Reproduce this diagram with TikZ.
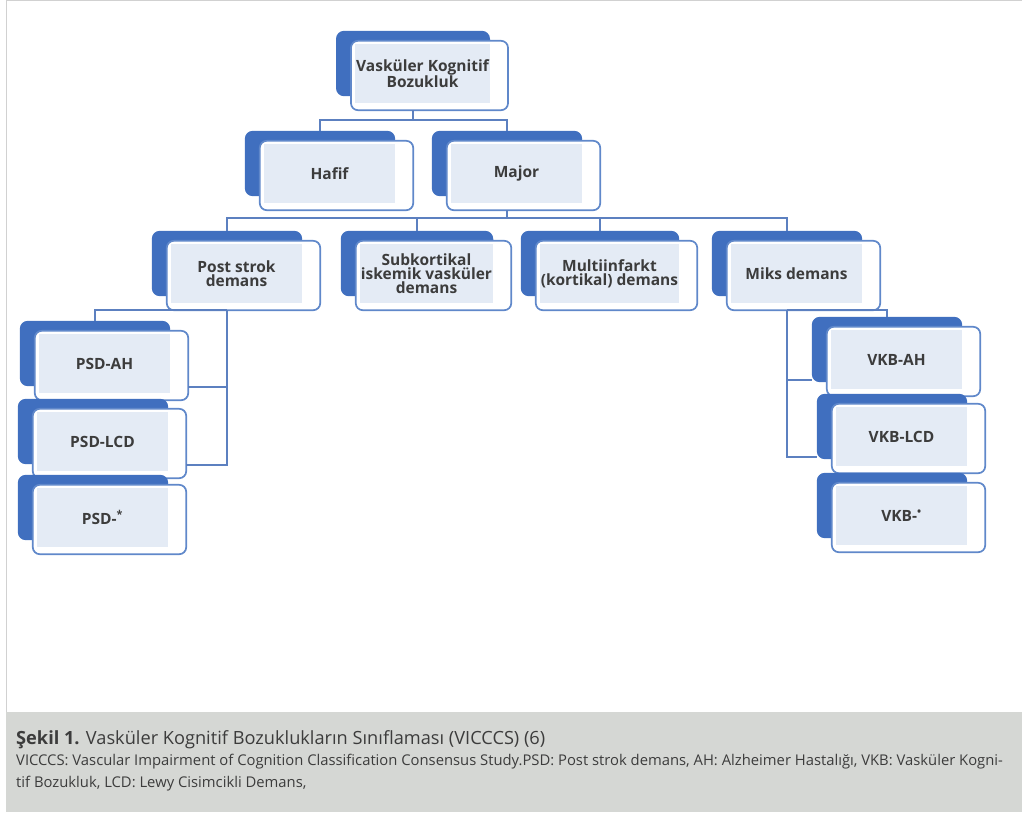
\documentclass[tikz,border=0pt]{standalone}
\usepackage{fontspec}
\usepackage{xcolor}
\usepackage{tikz}
\usetikzlibrary{positioning,backgrounds}
\newfontfamily\boxfont{Open Sans}
\newfontfamily\capfont{Open Sans}

\definecolor{backblue}{RGB}{64,111,191}
\definecolor{edgeblue}{RGB}{96,136,202}
\definecolor{innerfill}{RGB}{228,235,245}
\definecolor{linkblue}{RGB}{92,128,192}
\definecolor{capgray}{RGB}{213,215,212}
\definecolor{textgray}{RGB}{60,60,60}

\tikzset{
	txtbox/.style={fill=innerfill,minimum width=131pt,minimum height=59pt,inner sep=1pt,
		align=center,text=textgray,font=\boxfont\bfseries\fontsize{15.5}{14}\selectfont},
	backbox/.style={fill=backblue,rounded corners=8pt},
	frontbox/.style={fill=white,draw=edgeblue,line width=1.7pt,rounded corners=7pt},
	link/.style={draw=linkblue,line width=1.6pt},
	captxt/.style={anchor=base west,inner sep=0pt,text=textgray}
}

\begin{document}
\begin{tikzpicture}[x=1pt,y=-1pt]
	\useasboundingbox (0,0) rectangle (1022,812);
	% frame and caption strip
	\draw[black!18,line width=1pt] (6,712) -- (6,0.6) -- (1022,0.6);
	\fill[capgray] (6,712) rectangle (1022,812);
	
	% boxes
	\node[txtbox] (vkb) at (422.5,73.5) {Vasküler Kognitif\\Bozukluk};
	\node[txtbox] (hafif) at (329.5,173.5) {Hafif};
	\node[txtbox] (major) at (516.5,173.5) {Major};
	\node[txtbox] (post) at (236.5,273.5) {Post strok\\demans};
	\node[txtbox] (subk) at (426.5,273.5) {Subkortikal\\iskemik vasküler\\demans};
	\node[txtbox] (multi) at (609.5,273.5) {Multiinfarkt\\(kortikal) demans};
	\node[txtbox] (miks) at (796.5,273.5) {Miks demans};
	\node[txtbox] (psdah) at (104.5,363.5) {PSD-AH};
	\node[txtbox] (psdlcd) at (102.5,441.5) {PSD-LCD};
	\node[txtbox] (psdstar) at (102.5,517.5) {PSD-\textsuperscript{*}};
	\node[txtbox] (vkbah) at (896.5,359.5) {VKB-AH};
	\node[txtbox] (vkblcd) at (901.5,436.5) {VKB-LCD};
	\node[txtbox] (vkbstar) at (901.5,515.5) {VKB-\textsuperscript{•}};
	
	% shadow box and white frame behind each text
	\begin{scope}[on background layer]
		\foreach \n in {vkb,hafif,major,post,subk,multi,miks,psdah,psdlcd,psdstar,vkbah,vkblcd,vkbstar} {
			\path[backbox] ([shift={(-19,-13)}]\n.north west) rectangle ([shift={(0,-7)}]\n.south east);
			\path[frontbox] ([shift={(-4,-3)}]\n.north west) rectangle ([shift={(18,7)}]\n.south east);
		}
	\end{scope}
	
	% connector points
	\foreach \n in {vkb,major,post,miks}
		\coordinate (\n-b) at ([shift={(-9.5,7)}]\n.south);
	\foreach \n in {hafif,major,post,subk,multi,miks,psdah,vkbah}
		\coordinate (\n-t) at ([shift={(-9.5,-13)}]\n.north);
	
	\draw[link] (vkb-b) -- ++(0,10) -| (hafif-t);
	\draw[link] (vkb-b) -- ++(0,10) -| (major-t);
	\foreach \n in {post,subk,multi,miks}
		\draw[link] (major-b) -- ++(0,8) -| (\n-t);
	
	\draw[link] (psdah-t) |- (post-b);
	\draw[link] (post-b) |- ([shift={(18,-6)}]psdah.south east);
	\draw[link] (post-b) |- ([shift={(18,-6)}]psdlcd.south east);
	
	\draw[link] (vkbah-t) |- (miks-b);
	\draw[link] (miks-b) |- ([shift={(-19,-9)}]vkbah.south west);
	\draw[link] (miks-b) |- ([shift={(-19,-9)}]vkblcd.south west);
	
	% caption
	\node[captxt,font=\capfont\fontsize{18.2}{20}\selectfont] (cap1) at (16,744)
		{\textbf{Şekil 1.} Vasküler Kognitif Bozuklukların Sınıflaması (VICCCS) (6)};
	\node[captxt,font=\capfont\fontsize{14.8}{16}\selectfont] (cap2) at (16,765)
		{VICCCS: Vascular Impairment of Cognition Classification Consensus Study.PSD: Post strok demans, AH: Alzheimer Hastalığı, VKB: Vasküler Kogni-};
	\node[captxt,font=\capfont\fontsize{14.8}{16}\selectfont] (cap3) at (16,787)
		{tif Bozukluk, LCD: Lewy Cisimcikli Demans,};
\end{tikzpicture}
\end{document}
